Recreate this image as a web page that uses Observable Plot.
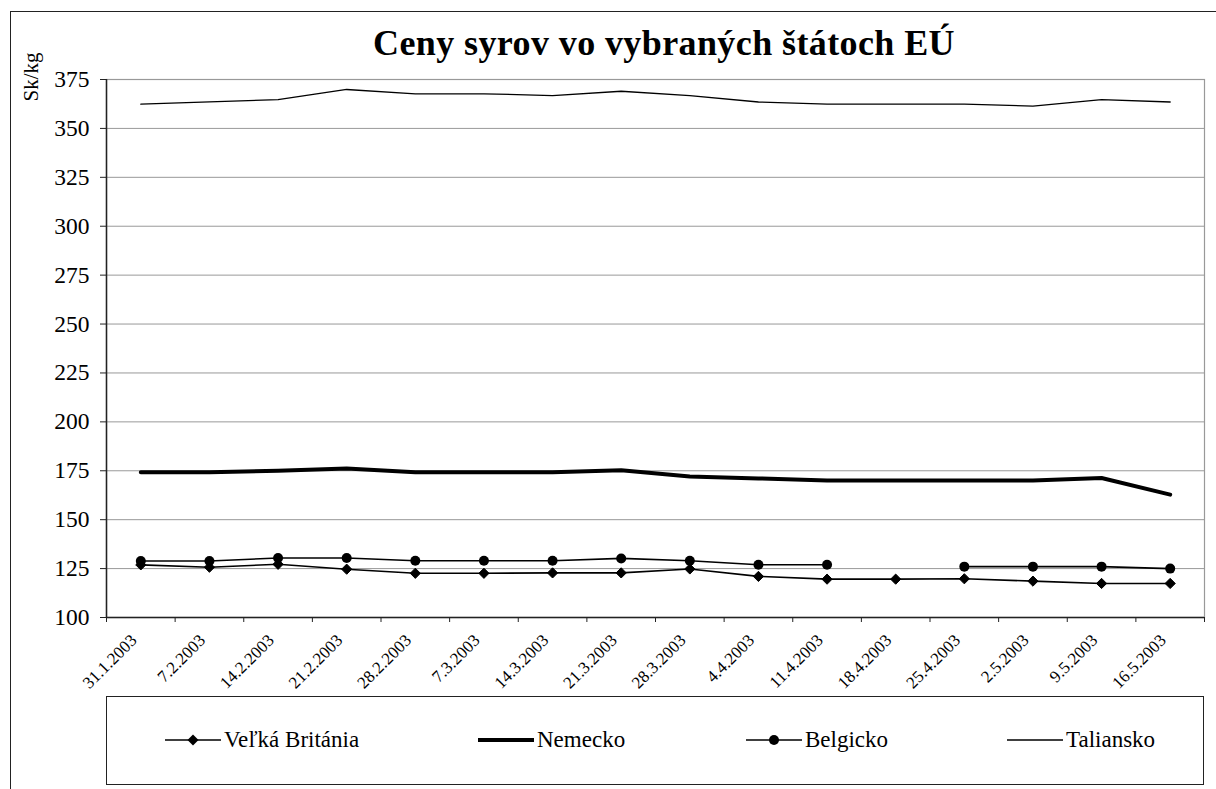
<!DOCTYPE html>
<html><head><meta charset="utf-8">
<script src="https://cdn.jsdelivr.net/npm/d3@7"></script>
<script src="https://cdn.jsdelivr.net/npm/@observablehq/plot@0.6"></script>
<style>
html,body{margin:0;padding:0;background:#fff;}
#chart{position:relative;width:1216px;height:789px;overflow:hidden;font-family:"Liberation Serif","Times New Roman","DejaVu Serif",serif;color:#000;}
#frame{position:absolute;left:10px;top:11px;width:1300px;height:900px;border:1.5px solid #222;box-sizing:border-box;}
#title{position:absolute;left:0;width:1328px;top:25px;text-align:center;font-family:"Liberation Serif","Times New Roman",serif;font-weight:bold;font-size:36px;line-height:36px;letter-spacing:0.4px;white-space:nowrap;}
#ylabel{position:absolute;left:31px;top:77px;transform:translate(-50%,-50%) rotate(-90deg);font-family:"Liberation Serif","Times New Roman",serif;font-size:21px;white-space:nowrap;}
#plot{position:absolute;left:0;top:0;}
#legend{position:absolute;left:106px;top:696px;width:1098px;height:89px;border:1.5px solid #222;box-sizing:border-box;}
.item{position:absolute;top:0;height:86px;display:flex;align-items:center;font-family:"Liberation Serif","Times New Roman",serif;font-size:23px;white-space:nowrap;}
.item svg{display:block;margin-right:3px;}
</style>
</head><body>
<div id="chart">
  <div id="frame"></div>
  <div id="plot"></div>
  <div id="title">Ceny syrov vo vybraných štátoch EÚ</div>
  <div id="ylabel">Sk/kg</div>
  <div id="legend"></div>
</div>
<script>
// ---- data ----
const dates = ["31.1.2003","7.2.2003","14.2.2003","21.2.2003","28.2.2003","7.3.2003","14.3.2003","21.3.2003","28.3.2003","4.4.2003","11.4.2003","18.4.2003","25.4.2003","2.5.2003","9.5.2003","16.5.2003"];
const velkaBritania = [126.9,125.7,127.2,124.7,122.6,122.6,122.8,122.8,124.8,121.0,119.6,119.6,119.8,118.6,117.4,117.4];
const nemecko = [174.2,174.2,175.0,176.2,174.2,174.2,174.2,175.3,172.1,171.1,170.0,170.0,170.0,170.0,171.3,162.8];
const belgicko = [128.9,128.9,130.4,130.4,129.0,129.0,129.0,130.2,129.0,127.0,127.0,null,126.0,126.0,126.0,125.0];
const taliansko = [362.4,363.6,364.7,369.9,367.7,367.7,366.8,369.0,366.8,363.5,362.4,362.4,362.4,361.4,364.7,363.5];
const seriesNames = ["Veľká Británia","Nemecko","Belgicko","Taliansko"];
const yTicks = [100,125,150,175,200,225,250,275,300,325,350,375];

// ---- build rows ----
const rows = arr => dates.map((d, i) => ({i, date: d, v: arr[i]}));
const vb = rows(velkaBritania), de = rows(nemecko), be = rows(belgicko), it = rows(taliansko);
const idx = d3.range(dates.length);
const bounds = d3.range(dates.length + 1).map(k => k - 0.5);
const FF = "'Liberation Serif', 'Times New Roman', serif";

const plot = Plot.plot({
  width: 1216, height: 690,
  marginLeft: 106, marginRight: 12, marginTop: 79, marginBottom: 73,
  style: `font-family: ${FF}; background: transparent; color: #000; overflow: visible;`,
  x: {type: "linear", domain: [-0.5, dates.length - 0.5], axis: null},
  y: {domain: [100, 375], axis: null},
  marks: [
    Plot.gridY(yTicks, {stroke: "#999", strokeOpacity: 1, strokeWidth: 1}),
    Plot.frame({stroke: "#999", strokeWidth: 1.2}),
    Plot.axisY({ticks: yTicks, label: null, tickSize: 6, tickPadding: 11, fontSize: 23.5, fontFamily: FF, stroke: "#222"}),
    Plot.axisX({ticks: bounds, label: null, tickFormat: () => "", tickSize: 5, stroke: "#222"}),
    Plot.axisX({ticks: idx, label: null, tickSize: 0, tickPadding: 20, dx: -7, tickRotate: -45, fontSize: 17, fontFamily: FF, tickFormat: i => dates[i]}),
    Plot.ruleX([-0.5], {stroke: "#222", strokeWidth: 1.5}),
    Plot.ruleY([100], {stroke: "#222", strokeWidth: 1.5}),
    Plot.lineY(it, {x: "i", y: "v", stroke: "#000", strokeWidth: 1.3}),
    Plot.lineY(de, {x: "i", y: "v", stroke: "#000", strokeWidth: 4}),
    Plot.lineY(be, {x: "i", y: "v", stroke: "#000", strokeWidth: 1.6}),
    Plot.dot(be.filter(d => d.v != null), {x: "i", y: "v", r: 5, fill: "#000", stroke: "none"}),
    Plot.lineY(vb, {x: "i", y: "v", stroke: "#000", strokeWidth: 1.6}),
    Plot.dot(vb, {x: "i", y: "v", r: 4.6, symbol: "diamond2", fill: "#000", stroke: "#000", strokeWidth: 1})
  ]
});
document.getElementById("plot").appendChild(plot);

// ---- legend ----
const legendX = [58, 371, 639, 900];
const legendStyle = [
  {w: 1.6, marker: "diamond"},
  {w: 4, marker: null},
  {w: 1.6, marker: "circle"},
  {w: 1.3, marker: null}
];
const legend = document.getElementById("legend");
seriesNames.forEach((name, k) => {
  const st = legendStyle[k];
  const div = document.createElement("div");
  div.className = "item";
  div.style.left = legendX[k] + "px";
  let m = "";
  if (st.marker === "diamond") m = '<path d="M28,2.5L33.5,8L28,13.5L22.5,8Z" fill="#000"/>';
  if (st.marker === "circle") m = '<circle cx="28" cy="8" r="5" fill="#000"/>';
  div.innerHTML = `<svg width="56" height="16" viewBox="0 0 56 16"><line x1="0" x2="56" y1="8" y2="8" stroke="#000" stroke-width="${st.w}"/>${m}</svg><span>${name}</span>`;
  legend.appendChild(div);
});
</script>
</body></html>
